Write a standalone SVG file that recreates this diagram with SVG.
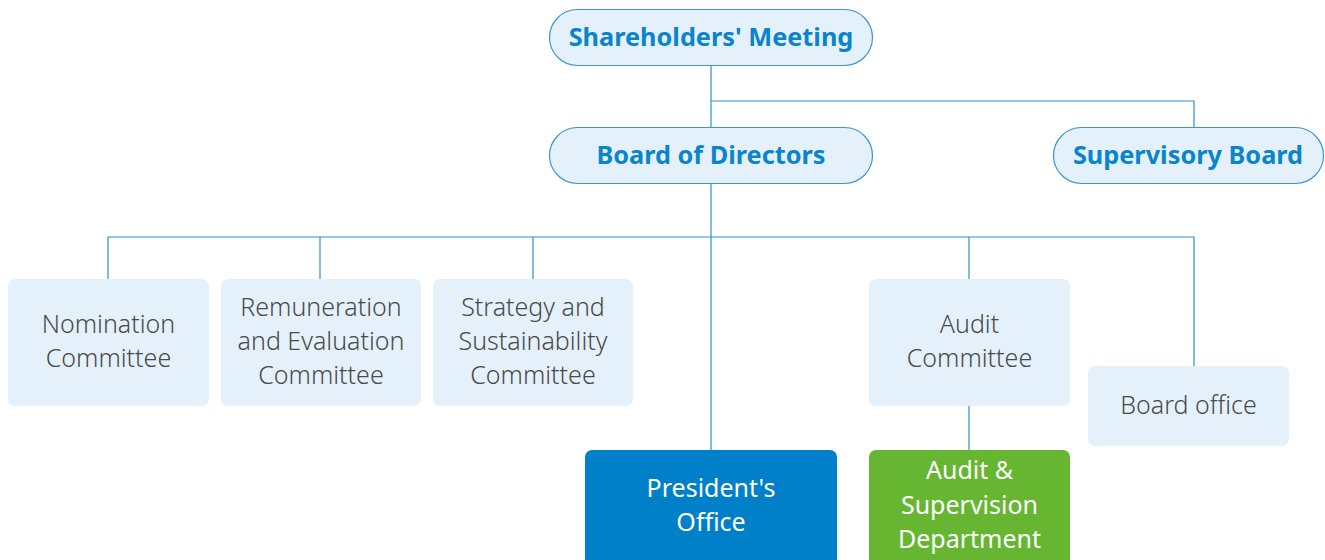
<svg xmlns="http://www.w3.org/2000/svg" width="1325" height="560" viewBox="0 0 1325 560">
<style>
.pill{fill:#E4F1FA;stroke:#3A96D6;stroke-width:1.2}
.pt{font-family:"Noto Sans",sans-serif;font-weight:700;font-size:25.3px;fill:#0B84CE;text-anchor:middle}
.box{fill:#E4F1FA}
.bt{font-family:"Noto Sans",sans-serif;font-weight:300;font-size:25px;fill:#4A4A4A;text-anchor:middle}
.wt{font-family:"Noto Sans",sans-serif;font-weight:400;font-size:25px;fill:#FFFFFF;text-anchor:middle}
.ln{fill:none;stroke:#2F8FD2;stroke-width:1.2}
</style>
<rect width="1325" height="560" fill="#FFFFFF"/>
<g id="connectors">
<path class="ln" d="M711 66V127M711 101H1194V127"/>
<path class="ln" d="M711 184V450M108 279V237H1194V366M320 237V279M533 237V279M969 237V279"/>
<path class="ln" d="M969 406V450" stroke="#7DBCE6"/>
</g>
<g id="shareholders">
<rect class="pill" x="549.5" y="9.5" width="323" height="56" rx="28"/>
<text class="pt" x="711" y="46">Shareholders' Meeting</text>
</g>
<g id="board">
<rect class="pill" x="549.5" y="127.5" width="323" height="56" rx="28"/>
<text class="pt" x="711" y="164">Board of Directors</text>
</g>
<g id="supervisory">
<rect class="pill" x="1053.5" y="127.5" width="270" height="56" rx="28"/>
<text class="pt" x="1188" y="164">Supervisory Board</text>
</g>
<g id="nomination">
<rect class="box" x="8" y="279" width="201" height="127" rx="7"/>
<text class="bt" x="108.5" y="333">Nomination</text>
<text class="bt" x="108.5" y="367">Committee</text>
</g>
<g id="remuneration">
<rect class="box" x="221" y="279" width="200" height="127" rx="7"/>
<text class="bt" x="321" y="316">Remuneration</text>
<text class="bt" x="321" y="350">and Evaluation</text>
<text class="bt" x="321" y="384">Committee</text>
</g>
<g id="strategy">
<rect class="box" x="433" y="279" width="200" height="127" rx="7"/>
<text class="bt" x="533" y="316">Strategy and</text>
<text class="bt" x="533" y="350">Sustainability</text>
<text class="bt" x="533" y="384">Committee</text>
</g>
<g id="audit-committee">
<rect class="box" x="869" y="279" width="201" height="127" rx="7"/>
<text class="bt" x="969.5" y="333">Audit</text>
<text class="bt" x="969.5" y="367">Committee</text>
</g>
<g id="board-office">
<rect class="box" x="1088" y="366" width="201" height="80" rx="7"/>
<text class="bt" x="1188.5" y="414">Board office</text>
</g>
<g id="presidents-office">
<rect x="585" y="450" width="252" height="120" rx="7" fill="#0080C8"/>
<text class="wt" x="711" y="497">President's</text>
<text class="wt" x="711" y="531">Office</text>
</g>
<g id="audit-supervision">
<rect x="869" y="450" width="201" height="120" rx="7" fill="#66B632"/>
<text class="wt" x="969.5" y="479">Audit &amp;</text>
<text class="wt" x="969.5" y="514">Supervision</text>
<text class="wt" x="969.5" y="548">Department</text>
</g>
</svg>
